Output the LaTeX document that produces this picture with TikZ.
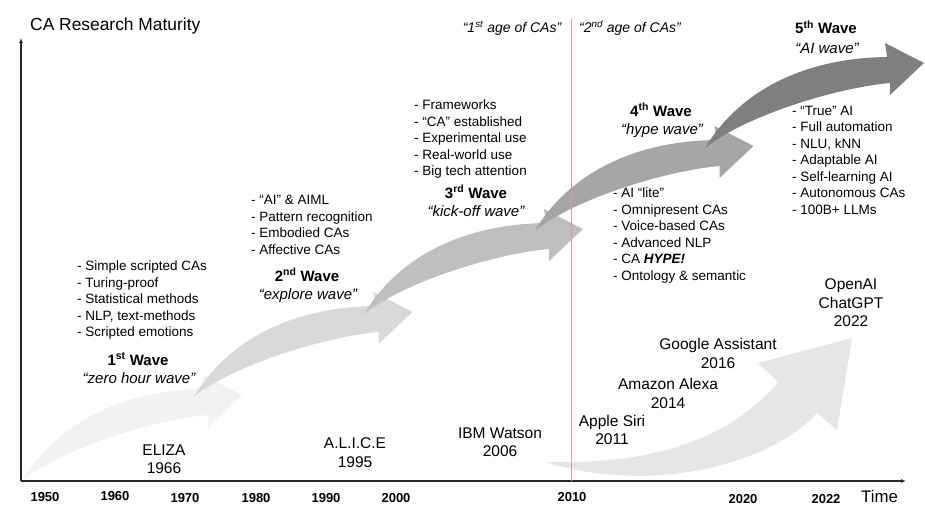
\documentclass[tikz,border=0pt]{standalone}
\usepackage{fontspec}
\setmainfont{Liberation Sans}
\usetikzlibrary{arrows.meta}
\definecolor{cWaveA}{RGB}{242,242,242}
\definecolor{cWaveB}{RGB}{217,217,217}
\definecolor{cWaveC}{RGB}{191,191,191}
\definecolor{cWaveD}{RGB}{166,166,166}
\definecolor{cWaveE}{RGB}{127,127,127}
\definecolor{cProd}{RGB}{230,230,230}
\definecolor{cAge}{RGB}{232,150,150}
\tikzset{
	lst/.style  ={anchor=north west, align=left, inner sep=0pt, font=\fontsize{13.5}{16.5}\selectfont},
	wname/.style={anchor=base, inner sep=0pt, font=\fontsize{15}{18}\selectfont\bfseries},
	wnick/.style={anchor=base, inner sep=0pt, font=\fontsize{15}{18}\selectfont\itshape},
	age/.style  ={anchor=base, inner sep=0pt, font=\fontsize{14}{17}\selectfont\itshape},
	prod/.style ={align=center, inner sep=0pt, font=\fontsize{15.5}{18.5}\selectfont},
	yr/.style   ={anchor=base, inner sep=0pt, font=\fontsize{13}{15}\selectfont\bfseries},
	axis/.style ={-{Latex[length=5pt,width=4pt]}, line width=1.1pt, black!85},
	ageline/.style={cAge, line width=0.8pt},
}

\begin{document}
\begin{tikzpicture}[x=1pt, y=-1pt]
	\useasboundingbox (0,0) rectangle (925,519);
	% waves, each one a step up and to the right
	\foreach \i/\c in {0/cWaveA, 1/cWaveB, 2/cWaveC, 3/cWaveD, 4/cWaveE}
		\fill[\c, shift={(23+170.5*\i,480-83*\i)}] (0,0) .. controls (35,-58) and (100,-90) .. (182,-91)
			-- (180,-105) -- (219,-85) -- (185,-53) -- (185,-65) .. controls (130,-60) and (40,-32) .. (0,0) -- cycle;
	% products arrow
	\fill[cProd] (545,462) .. controls (650,465) and (730,440) .. (778,382) -- (758,363) -- (852,338)
		-- (837,430) -- (817,413) .. controls (770,465) and (650,495) .. (545,462) -- cycle;

	% axes
	\coordinate (o) at (21,481);
	\coordinate (ytop) at (21,38);
	\coordinate (xend) at (906,481);
	\draw[axis] (o) -- (ytop);
	\draw[axis] (o) -- (xend);
	\coordinate (agetop) at (571,18);
	\coordinate (agebot) at (571,481);
	\draw[ageline] (agetop) -- (agebot);

	\node[anchor=base west, inner sep=0pt, font=\fontsize{17.4}{20}\selectfont] (title) at (30,31) {CA Research Maturity};
	\node[anchor=base west, inner sep=0pt, font=\fontsize{16.8}{20}\selectfont] (time) at (861,502) {Time};
	\foreach \yr/\x/\y in {1950/45/501, 1960/115/500, 1970/185/502, 1980/256/502, 1990/326/502, 2000/396/502, 2010/572/501, 2020/743/503, 2022/826/503}
		\node[yr] (y\yr) at (\x,\y) {\yr};

	\node[age] (age1) at (512,33) {“1\textsuperscript{st} age of CAs”};
	\node[age] (age2) at (630,33) {“2\textsuperscript{nd} age of CAs”};

	% wave names
	\node[wname] (w1) at (138,365) {1\textsuperscript{st} Wave};
	\node[wnick] (n1) at (139,383) {“zero hour wave”};
	\node[wname] (w2) at (307,281) {2\textsuperscript{nd} Wave};
	\node[wnick] (n2) at (308,299) {“explore wave”};
	\node[wname] (w3) at (476,198) {3\textsuperscript{rd} Wave};
	\node[wnick] (n3) at (476,216) {“kick-off wave”};
	\node[wname] (w4) at (661,116) {4\textsuperscript{th} Wave};
	\node[wnick] (n4) at (662,134) {“hype wave”};
	\node[wname] (w5) at (826,34) {5\textsuperscript{th} Wave};
	\node[wnick] (n5) at (827,53) {“AI wave”};

	% wave contents
	\node[lst] (l1) at (77,261) {- Simple scripted CAs\\- Turing-proof\\- Statistical methods\\- NLP, text-methods\\- Scripted emotions};
	\node[lst] (l2) at (251,195) {- “AI” \& AIML\\- Pattern recognition\\- Embodied CAs\\- Affective CAs};
	\node[lst] (l3) at (414,100) {- Frameworks\\- “CA” established\\- Experimental use\\- Real-world use\\- Big tech attention};
	\node[lst] (l4) at (613,188) {- AI “lite”\\- Omnipresent CAs\\- Voice-based CAs\\- Advanced NLP\\- CA \textbf{\textit{HYPE!}}\\- Ontology \& semantic};
	\node[lst] (l5) at (792,106) {- “True” AI\\- Full automation\\- NLU, kNN\\- Adaptable AI\\- Self-learning AI\\- Autonomous CAs\\- 100B+ LLMs};

	% products
	\node[prod] (eliza) at (164,459) {ELIZA\\1966};
	\node[prod] (alice) at (355,452.5) {A.L.I.C.E\\1995};
	\node[prod] (watson) at (500,442) {IBM Watson\\2006};
	\node[prod] (siri) at (612,430) {Apple Siri\\2011};
	\node[prod] (alexa) at (668,393.5) {Amazon Alexa\\2014};
	\node[prod] (google) at (718,353.5) {Google Assistant\\2016};
	\node[prod] (openai) at (851,303) {OpenAI\\ChatGPT\\2022};
\end{tikzpicture}
\end{document}
